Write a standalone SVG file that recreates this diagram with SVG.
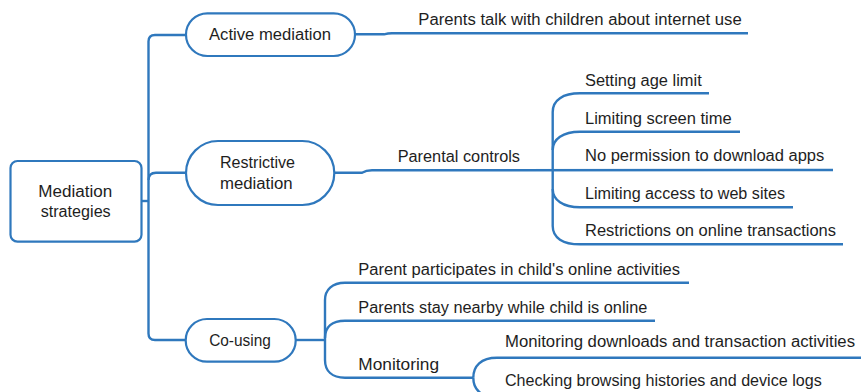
<svg xmlns="http://www.w3.org/2000/svg" width="861" height="392" viewBox="0 0 861 392">
<style>
  text { font-family: "Liberation Sans", Arial, sans-serif; font-size: 16px; fill: #1e1e1e; }
  .node { fill: #ffffff; stroke: #2f78bd; stroke-width: 2.2; }
  .conn { fill: none; stroke: #2f78bd; stroke-width: 2.4; }
  .mid { text-anchor: middle; }
</style>
<rect width="861" height="392" fill="#ffffff"/>
<g id="connectors">
  <path class="conn" d="M186 35 L155 35 Q148.5 35 148.5 41.5 L148.5 333.5 Q148.5 340 155 340 L186 340"/>
  <path class="conn" d="M148.5 180 Q148.5 172.7 156 172.7 L186 172.7"/>
  <path class="conn" d="M141 201 L148.5 201" stroke-width="3"/>
  <path class="conn" d="M355 34.3 L384 34.3 Q388 33.3 392 33.3 L748 33.3"/>
  <path class="conn" d="M334 172.7 L362 172.7 Q366 170.3 372 170.3 L833 170"/>
  <path class="conn" d="M709 93.3 L580 93.3 C563 93.3 552.7 100 552.7 112 L552.7 226 C552.7 238 563 244.3 580 244.3 L843 244.3"/>
  <path class="conn" d="M552.7 150 C552.7 139 563 131.7 580 131.7 L740 131.7"/>
  <path class="conn" d="M552.7 189 C552.7 200 563 207.3 580 207.3 L793 207.3"/>
  <path class="conn" d="M295.7 340 L325 340"/>
  <path class="conn" d="M689 282.7 L345 282.7 C332 282.7 325 290 325 300 L325 360 C325 371 332 377.7 345 377.7 L473.3 377.7"/>
  <path class="conn" d="M325 338 C325 327 332 320.7 345 320.7 L655 320.7"/>
  <path class="conn" d="M473.3 377.7 C473.3 366 481 357.7 497 357.7 L861 357.7"/>
  <path class="conn" d="M473.3 377.7 C473.3 389 481 397.7 497 397.7 L830 397.7"/>
</g>
<g id="root">
  <rect class="node" x="10.5" y="161" width="131" height="80.7" rx="7"/>
  <text class="mid" x="75.3" y="196.5" textLength="74" lengthAdjust="spacingAndGlyphs">Mediation</text>
  <text class="mid" x="75.7" y="217" textLength="70" lengthAdjust="spacingAndGlyphs">strategies</text>
</g>
<g id="active">
  <rect class="node" x="186" y="13.3" width="169" height="42.7" rx="21.3"/>
  <text class="mid" x="270" y="40" textLength="122" lengthAdjust="spacingAndGlyphs">Active mediation</text>
</g>
<g id="active-talk">
  <text x="418.3" y="25" textLength="323.4" lengthAdjust="spacingAndGlyphs">Parents talk with children about internet use</text>
</g>
<g id="restrictive">
  <rect class="node" x="186" y="141" width="148.3" height="64" rx="32"/>
  <text class="mid" x="257.5" y="168.3" textLength="75" lengthAdjust="spacingAndGlyphs">Restrictive</text>
  <text class="mid" x="256.3" y="189.3" textLength="72.7" lengthAdjust="spacingAndGlyphs">mediation</text>
</g>
<g id="parental-controls">
  <text x="397.7" y="161.7" textLength="122.3" lengthAdjust="spacingAndGlyphs">Parental controls</text>
</g>
<g id="pc-age">
  <text x="585" y="85.5" textLength="116.7" lengthAdjust="spacingAndGlyphs">Setting age limit</text>
</g>
<g id="pc-screen">
  <text x="585" y="123.5" textLength="146.7" lengthAdjust="spacingAndGlyphs">Limiting screen time</text>
</g>
<g id="pc-apps">
  <text x="585" y="161" textLength="239.3" lengthAdjust="spacingAndGlyphs">No permission to download apps</text>
</g>
<g id="pc-web">
  <text x="585" y="198.5" textLength="200" lengthAdjust="spacingAndGlyphs">Limiting access to web sites</text>
</g>
<g id="pc-trans">
  <text x="585" y="236.3" textLength="251" lengthAdjust="spacingAndGlyphs">Restrictions on online transactions</text>
</g>
<g id="cousing">
  <rect class="node" x="185.7" y="319" width="110" height="42.7" rx="21.3"/>
  <text class="mid" x="240" y="346" textLength="61.7" lengthAdjust="spacingAndGlyphs">Co-using</text>
</g>
<g id="co-participate">
  <text x="358.3" y="275" textLength="321.7" lengthAdjust="spacingAndGlyphs">Parent participates in child's online activities</text>
</g>
<g id="co-nearby">
  <text x="358.3" y="312.7" textLength="289" lengthAdjust="spacingAndGlyphs">Parents stay nearby while child is online</text>
</g>
<g id="co-monitoring">
  <text x="358.3" y="370" textLength="80.7" lengthAdjust="spacingAndGlyphs">Monitoring</text>
</g>
<g id="mon-downloads">
  <text x="505" y="347.3" textLength="350" lengthAdjust="spacingAndGlyphs">Monitoring downloads and transaction activities</text>
</g>
<g id="mon-logs">
  <text x="505" y="385.7" textLength="316.7" lengthAdjust="spacingAndGlyphs">Checking browsing histories and device logs</text>
</g>
</svg>
